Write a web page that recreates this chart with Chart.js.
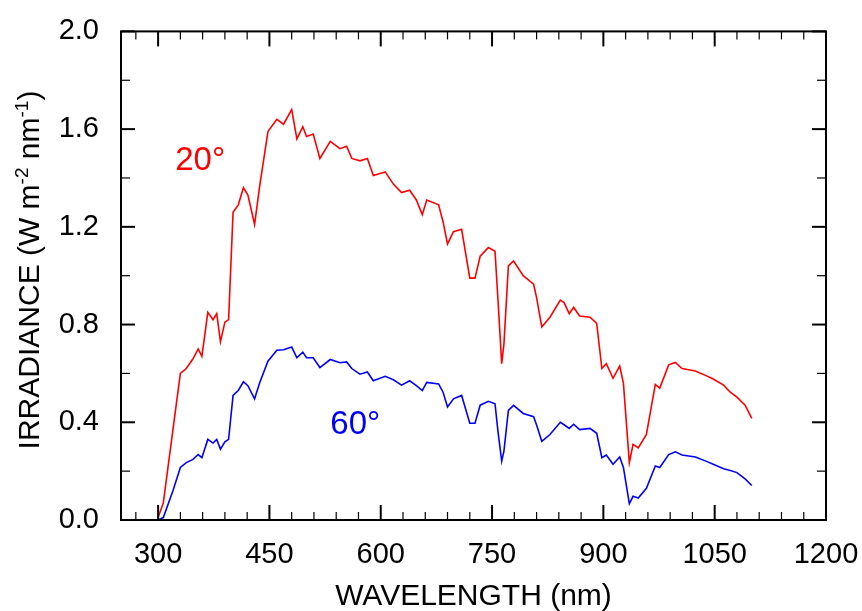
<!DOCTYPE html>
<html lang="en">
<head>
  <meta charset="UTF-8"/>
  <title>Irradiance spectra</title>
  <style>
    body { margin: 0; background: #fff; }
    #chart { display: block; }
  </style>
  <script src="https://cdn.jsdelivr.net/npm/chart.js"></script>
</head>
<body>
  <canvas id="chart" width="862" height="611"></canvas>
  <script>
    // Wavelength (nm) and irradiance (W m-2 nm-1)
    const wavelength = [300,307,320,330,338,347,354,359,367,374,379,384,390,395,401,408,415,421,430,437,
      448,460,469,480,487,495,500,509,518,532,545,554,561,572,582,590,606,617,628,639,
      648,656,662,678,684,690,698,709,720,727,734,745,754,758,763,766,772,779,792,806,
      810,817,828,842,847,854,860,868,882,891,898,904,913,922,927,935,940,947,958,970,
      976,988,997,1006,1024,1039,1048,1062,1071,1080,1091,1100];
    const zenith20 = [0.01,0.07,0.37,0.60,0.62,0.66,0.70,0.67,0.85,0.82,0.845,0.73,0.81,0.82,1.26,1.29,1.36,1.33,1.21,1.37,
      1.59,1.64,1.62,1.68,1.56,1.61,1.57,1.58,1.48,1.55,1.52,1.53,1.48,1.47,1.48,1.41,1.425,1.375,1.34,1.35,
      1.31,1.25,1.31,1.29,1.22,1.13,1.18,1.19,0.99,0.99,1.08,1.115,1.10,0.90,0.64,0.72,1.04,1.06,1.00,0.965,
      0.91,0.79,0.83,0.90,0.89,0.845,0.87,0.835,0.83,0.805,0.62,0.64,0.58,0.63,0.56,0.235,0.31,0.295,0.35,0.555,
      0.54,0.635,0.645,0.62,0.61,0.59,0.577,0.552,0.523,0.503,0.47,0.416];
    const zenith60 = [0.0,0.01,0.12,0.215,0.235,0.248,0.268,0.255,0.33,0.315,0.33,0.29,0.32,0.33,0.51,0.53,0.566,0.55,0.496,0.563,
      0.65,0.695,0.697,0.708,0.664,0.687,0.664,0.664,0.624,0.657,0.644,0.647,0.62,0.597,0.606,0.57,0.588,0.574,0.552,0.57,
      0.55,0.53,0.563,0.557,0.523,0.463,0.496,0.51,0.396,0.396,0.47,0.486,0.476,0.362,0.241,0.282,0.449,0.469,0.436,0.423,
      0.389,0.322,0.35,0.40,0.39,0.375,0.392,0.37,0.375,0.355,0.255,0.266,0.228,0.258,0.215,0.067,0.097,0.09,0.13,0.221,
      0.215,0.268,0.279,0.266,0.258,0.24,0.228,0.21,0.203,0.194,0.168,0.141];

    // Axis ticks
    const xTicks = [300,450,600,750,900,1050,1200];
    const xMinor = [270,330,360,390,420,480,510,540,570,630,660,690,720,780,810,840,870,930,960,990,1020,1080,1110,1140,1170];
    const yTicks = [0,0.4,0.8,1.2,1.6,2.0];
    const yMinor = [0.2,0.6,1.0,1.4,1.8];

    // Curve labels: [text, wavelength, irradiance, colour]
    const curveLabels = [
      ['20°', 323, 1.433, '#ff0000'],
      ['60°', 532, 0.35, '#0000ff']
    ];

    const FONT = '"Liberation Sans", Arial, sans-serif';

    // Frame, inward tick marks, curve labels and y title with superscripts
    const framePlugin = {
      id: 'frame',
      afterDraw(chart) {
        const {ctx, chartArea: a, scales: {x, y}} = chart;
        ctx.save();
        ctx.strokeStyle = '#000';
        const seg = (x1, y1, x2, y2, w) => {
          ctx.lineWidth = w;
          ctx.beginPath(); ctx.moveTo(x1, y1); ctx.lineTo(x2, y2); ctx.stroke();
        };
        xTicks.forEach(v => {
          const p = x.getPixelForValue(v);
          seg(p, a.bottom, p, a.bottom - 15, 2);
          seg(p, a.top, p, a.top + 15, 2);
        });
        xMinor.forEach(v => {
          const p = x.getPixelForValue(v);
          seg(p, a.bottom, p, a.bottom - 8, 1.2);
          seg(p, a.top, p, a.top + 8, 1.2);
        });
        yTicks.forEach(v => {
          const p = y.getPixelForValue(v);
          seg(a.left, p, a.left + 14, p, 2);
          seg(a.right, p, a.right - 14, p, 2);
        });
        yMinor.forEach(v => {
          const p = y.getPixelForValue(v);
          seg(a.left, p, a.left + 9, p, 1.2);
          seg(a.right, p, a.right - 9, p, 1.2);
        });
        ctx.lineWidth = 2;
        ctx.strokeRect(a.left, a.top, a.right - a.left, a.bottom - a.top);

        // curve labels
        ctx.font = '33px ' + FONT;
        ctx.textAlign = 'left';
        ctx.textBaseline = 'alphabetic';
        curveLabels.forEach(([t, wl, v, c]) => {
          ctx.fillStyle = c;
          ctx.fillText(t, x.getPixelForValue(wl), y.getPixelForValue(v));
        });

        // y axis title
        const parts = [['IRRADIANCE (W m', 30, 0], ['-2', 19, -11], [' nm', 30, 0], ['-1', 19, -11], [')', 30, 0]];
        let total = 0;
        parts.forEach(p => { ctx.font = p[1] + 'px ' + FONT; p.push(ctx.measureText(p[0]).width); total += p[3]; });
        ctx.translate(39, 270);
        ctx.rotate(-Math.PI / 2);
        ctx.fillStyle = '#000';
        let cx = -total / 2;
        parts.forEach(p => {
          ctx.font = p[1] + 'px ' + FONT;
          ctx.fillText(p[0], cx, p[2]);
          cx += p[3];
        });
        ctx.restore();
      }
    };

    new Chart(document.getElementById('chart'), {
      type: 'line',
      data: {
        datasets: [
          { label: '20°', data: wavelength.map((w, i) => ({x: w, y: zenith20[i]})),
            borderColor: '#ff0000', borderWidth: 1.6, pointRadius: 0, fill: false, tension: 0 },
          { label: '60°', data: wavelength.map((w, i) => ({x: w, y: zenith60[i]})),
            borderColor: '#0000ff', borderWidth: 1.6, pointRadius: 0, fill: false, tension: 0 }
        ]
      },
      options: {
        responsive: false, animation: false,
        layout: { padding: { top: 23, right: 36, left: 0, bottom: 0 } },
        plugins: { legend: { display: false }, tooltip: { enabled: false } },
        scales: {
          x: {
            type: 'linear', min: 250, max: 1200,
            afterBuildTicks: s => { s.ticks = xTicks.map(v => ({value: v})); },
            afterFit: s => { s.height = 91; s.paddingLeft = 0; s.paddingRight = 0; },
            grid: { display: false }, border: { display: false },
            ticks: { color: '#000', font: { family: FONT, size: 29 }, padding: 10, maxRotation: 0, autoSkip: false,
                     callback: v => String(v) },
            title: { display: true, text: 'WAVELENGTH (nm)', color: '#000', font: { family: FONT, size: 30 },
                     padding: { top: 0, bottom: -4 } }
          },
          y: {
            min: 0, max: 2,
            afterBuildTicks: s => { s.ticks = yTicks.map(v => ({value: v})); },
            afterFit: s => { s.width = 121; },
            grid: { display: false }, border: { display: false },
            ticks: { color: '#000', font: { family: FONT, size: 29 }, padding: 14, callback: v => v.toFixed(1) }
          }
        }
      },
      plugins: [framePlugin]
    });
  </script>
</body>
</html>
